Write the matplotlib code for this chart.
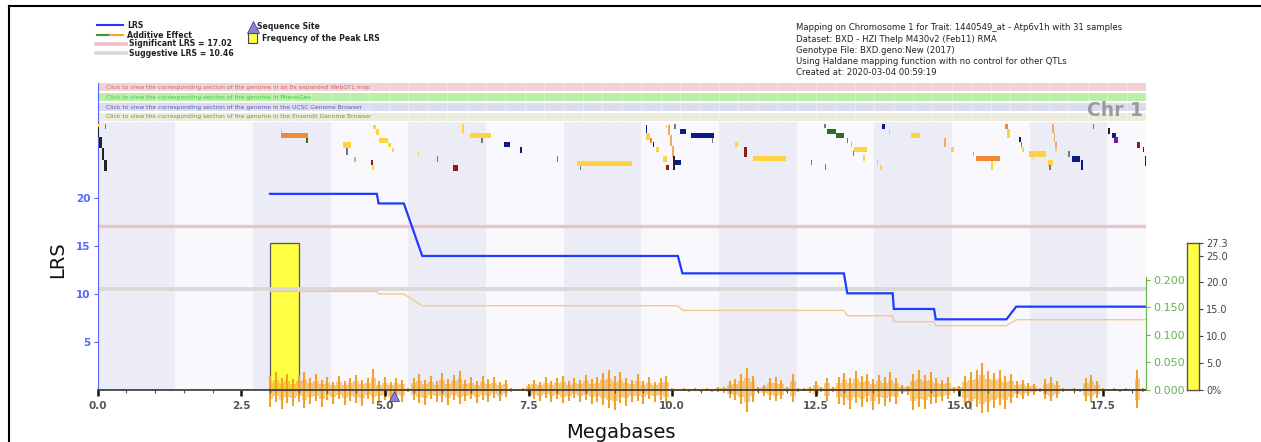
import numpy as np
import matplotlib
matplotlib.use("Agg")
import matplotlib.pyplot as plt
from matplotlib.lines import Line2D
from matplotlib.patches import Rectangle
from matplotlib.ticker import MultipleLocator, FixedLocator, FixedFormatter

plt.rcParams['font.family'] = ['DejaVu Sans']

# ---------------- data ----------------
chr_end_mb = 18.25
band_edges = [0, 1.352, 2.704, 4.056, 5.408, 6.76, 8.112, 9.464, 10.816,
              12.168, 13.52, 14.872, 16.224, 17.576, 18.25]

lrs_mb = [3.00, 4.86, 4.89, 5.33, 5.65, 10.10, 10.18, 12.99, 13.05, 13.84,
          13.86, 14.56, 14.59, 15.82, 15.99, 18.25]
lrs_val = [20.4, 20.4, 19.4, 19.4, 13.93, 13.93, 12.12, 12.12, 10.04, 10.04,
           8.41, 8.41, 7.33, 7.33, 8.65, 8.65]
additive_val = [0.1787, 0.1787, 0.1740, 0.1740, 0.1527, 0.1527, 0.1442, 0.1442,
                0.1345, 0.1345, 0.1236, 0.1236, 0.1164, 0.1164, 0.1273, 0.1273]

significant_lrs = 17.02
suggestive_lrs = 10.46

peak_bin_start = 3.00
peak_bin_end = 3.51
peak_freq = 27.3
freq_ticks = [0, 5, 10, 15, 20, 25, 27.3]
freq_labels = ['0%', '5.0', '10.0', '15.0', '20.0', '25.0', '27.3']

additive_ticks = [0.0, 0.05, 0.10, 0.15, 0.20]
lrs_ticks = [5, 10, 15, 20]
seq_site_mb = 5.15

snp_start, snp_step = 3.0, 0.1
snp_up = [14, 18, 12, 16, 11, 15, 18, 12, 16, 10,
          13, 8, 14, 9, 12, 15, 10, 12, 21, 9,
          13, 8, 12, 10, 2, 12, 16, 10, 14, 9,
          17, 11, 15, 19, 10, 13, 9, 14, 11, 13,
          8, 10, 2, 1, 2, 6, 10, 8, 13, 9,
          12, 14, 9, 12, 10, 15, 11, 13, 17, 20,
          14, 18, 12, 10, 16, 9, 13, 8, 12, 14,
          2, 1, 2, 1, 2, 1, 2, 1, 3, 3,
          9, 11, 16, 22, 14, 3, 5, 12, 13, 10,
          3, 16, 2, 2, 3, 9, 3, 12, 3, 13,
          17, 12, 19, 14, 16, 11, 15, 13, 18, 12,
          5, 4, 16, 20, 15, 18, 12, 10, 13, 3,
          4, 14, 18, 20, 27, 19, 17, 20, 14, 16,
          9, 10, 7, 6, 2, 11, 13, 9, 2, 1,
          2, 1, 12, 15, 9, 2, 1, 2, 1, 2,
          1, 20, 2]
snp_down = [17, 12, 19, 13, 16, 12, 18, 14, 11, 17,
            10, 14, 9, 15, 11, 13, 16, 9, 14, 12,
            10, 13, 9, 12, 2, 10, 13, 15, 9, 12,
            12, 15, 10, 14, 11, 9, 13, 10, 12, 8,
            11, 7, 2, 1, 1, 5, 9, 11, 8, 12,
            9, 13, 11, 8, 12, 10, 14, 12, 15, 18,
            20, 13, 16, 12, 11, 14, 9, 12, 10, 13,
            2, 1, 1, 2, 1, 2, 1, 2, 2, 3,
            8, 10, 14, 22, 12, 2, 6, 10, 11, 9,
            2, 12, 2, 1, 3, 7, 2, 11, 2, 14,
            15, 19, 13, 17, 12, 20, 14, 16, 12, 14,
            4, 5, 20, 17, 19, 14, 13, 11, 9, 3,
            3, 16, 20, 17, 26, 22, 18, 15, 19, 13,
            8, 9, 6, 5, 2, 9, 11, 8, 2, 1,
            1, 2, 11, 12, 8, 2, 1, 1, 2, 1,
            1, 18, 2]

gene_start = [0.00, 0.03, 0.07, 0.11, 0.13, 0.00, 3.19, 3.19, 3.63, 4.27,
              4.33, 4.47, 4.76, 4.78, 4.79, 4.85, 4.90, 5.05, 5.12, 5.57,
              5.90, 6.19, 6.18, 6.34, 6.48, 6.68, 7.08, 7.35, 8.00, 8.34,
              8.40, 9.54, 9.55, 9.62, 9.66, 9.72, 9.84, 9.90, 9.89, 9.93,
              9.96, 10.00, 10.04, 10.14, 10.33, 10.69, 10.03, 10.02, 11.09, 11.25,
              11.41, 12.41, 12.66, 12.65, 12.70, 12.86, 13.04, 13.11, 13.16, 13.15,
              13.33, 13.56, 13.62, 13.65, 13.77, 14.16, 14.74, 14.86, 15.24, 15.29,
              15.56, 15.79, 15.83, 16.04, 16.07, 16.09, 16.61, 16.64, 16.67, 16.66,
              16.22, 16.28, 16.54, 16.57, 16.90, 16.97, 17.12, 17.33, 17.58, 17.66,
              17.70, 18.09, 18.20, 18.23]
gene_end = [0.03, 0.07, 0.11, 0.16, 0.15, 0.03, 3.66, 3.21, 3.66, 4.41,
            4.35, 4.49, 4.79, 4.80, 4.85, 4.90, 5.05, 5.11, 5.16, 5.60,
            5.92, 6.27, 6.20, 6.38, 6.85, 6.70, 7.17, 7.39, 8.02, 9.31,
            8.42, 9.56, 9.62, 9.64, 9.69, 9.77, 9.91, 9.95, 9.91, 9.96,
            10.00, 10.03, 10.06, 10.24, 10.73, 10.71, 10.16, 10.04, 11.15, 11.31,
            11.99, 12.43, 12.68, 12.67, 12.86, 13.00, 13.06, 13.13, 13.40, 13.17,
            13.35, 13.59, 13.66, 13.71, 13.79, 14.32, 14.77, 14.90, 15.26, 15.70,
            15.58, 15.84, 15.89, 16.08, 16.09, 16.12, 16.64, 16.67, 16.70, 16.70,
            16.51, 16.30, 16.63, 16.59, 16.93, 17.10, 17.16, 17.35, 17.63, 17.73,
            17.76, 18.14, 18.22, 18.25]
gene_top = [0.65, 2.8, 5.2, 7.8, 0.0, 0.0, 2.0, 1.1, 3.05, 4.0,
            5.2, 7.2, 7.8, 8.9, 0.2, 1.1, 3.0, 4.1, 5.2, 6.1,
            7.0, 8.9, 7.8, 0.0, 2.0, 3.05, 3.9, 5.0, 7.0, 7.98,
            9.1, 0.2, 2.0, 3.05, 3.9, 5.0, 7.0, 8.9, 0.2, 0.2,
            2.4, 4.8, 0.0, 1.1, 2.0, 3.05, 7.8, 7.0, 3.9, 4.9,
            6.9, 7.8, 8.7, 0.0, 1.1, 2.0, 3.05, 3.9, 5.0, 5.9,
            6.7, 7.8, 8.9, 0.0, 1.1, 2.0, 3.1, 5.1, 6.0, 6.9,
            8.0, 0.0, 1.15, 2.9, 3.85, 4.9, 0.0, 2.0, 4.0, 5.1,
            5.9, 7.1, 7.8, 8.9, 5.8, 7.0, 7.8, 0.0, 0.95, 1.9,
            2.9, 4.0, 5.1, 6.9]
gene_bottom = [2.8, 5.2, 7.8, 10.2, 1.1, 0.65, 3.1, 2.0, 4.1, 5.15,
               6.7, 8.3, 8.9, 10.0, 1.1, 2.4, 4.1, 5.0, 6.1, 7.0,
               8.3, 10.2, 8.9, 2.0, 3.1, 4.1, 5.0, 6.3, 8.3, 9.07,
               10.0, 2.0, 3.5, 4.1, 5.0, 6.1, 8.3, 10.0, 0.9, 2.4,
               4.8, 7.2, 1.1, 2.2, 3.05, 4.1, 8.9, 10.0, 5.0, 7.1,
               8.0, 8.9, 10.0, 0.9, 2.2, 3.05, 4.1, 5.0, 6.1, 7.0,
               8.0, 8.9, 10.0, 1.1, 2.2, 3.1, 5.1, 6.15, 7.0, 8.0,
               10.0, 1.15, 3.1, 4.0, 4.9, 6.15, 2.0, 4.0, 5.1, 6.15,
               7.1, 8.0, 9.1, 10.0, 7.1, 8.2, 10.0, 1.15, 2.2, 3.1,
               4.2, 5.15, 6.15, 9.1]
gene_kind = ['K', 'K', 'K', 'K', 'GR', 'Y', 'O', 'Y', 'G', 'Y',
             'GR', 'LO', 'R', 'Y', 'Y', 'Y', 'Y', 'Y', 'Y', 'Y',
             'GR', 'R', 'Y', 'Y', 'Y', 'GR', 'N', 'N', 'GR', 'Y',
             'GR', 'N', 'Y', 'O', 'N', 'Y', 'Y', 'R', 'Y', 'LO',
             'LO', 'LO', 'GR', 'N', 'N', 'GR', 'N', 'K', 'Y', 'R',
             'Y', 'GR', 'GR', 'GR', 'G', 'G', 'GR', 'LO', 'Y', 'GR',
             'Y', 'Y', 'Y', 'N', 'Y', 'Y', 'LO', 'Y', 'PK', 'O',
             'Y', 'O', 'Y', 'N', 'GR', 'Y', 'LO', 'LO', 'PK', 'Y',
             'Y', 'Y', 'Y', 'GR', 'GR', 'N', 'N', 'GR', 'K', 'N',
             'P', 'R', 'N', 'K']

click_labels = [
    "Click to view the corresponding section of the genome in an 8x expanded WebQTL map",
    "Click to view the corresponding section of the genome in PhenoGen",
    "Click to view the corresponding section of the genome in the UCSC Genome Browser",
    "Click to view the corresponding section of the genome in the Ensembl Genome Browser",
]
info_lines = [
    "Mapping on Chromosome 1 for Trait: 1440549_at - Atp6v1h with 31 samples",
    "Dataset: BXD - HZI Thelp M430v2 (Feb11) RMA",
    "Genotype File: BXD.geno:New (2017)",
    "Using Haldane mapping function with no control for other QTLs",
    "Created at: 2020-03-04 00:59:19",
]

# ---------------- styles ----------------
GENE_COLORS = {'Y': '#ffd23f', 'O': '#f08a35', 'LO': '#f4a860', 'N': '#0b1a85',
               'R': '#8e1b1b', 'G': '#2f6c1f', 'K': '#222222', 'GR': '#777777',
               'P': '#7b1a9c', 'PK': '#d9a3a3'}
BAND_DARK, BAND_LIGHT = '#ebecf5', '#f8f8fd'
BLUE_AX = '#5566ff'
BLUE_LINE = '#1f3bff'
GREEN_AX = '#66b350'
ORANGE = '#f2a229'

W, H = 1261, 442
fig = plt.figure(figsize=(W / 100, H / 100), dpi=100)


def fx(px):
    return px / W


def fy(py):
    return 1 - py / H


L_PX, R_PX = 97.7, 1146.0
TOP_PX, AX0_PX, BOT_PX = 122.3, 389.7, 413.0
rect = [fx(L_PX), fy(BOT_PX), (R_PX - L_PX) / W, (BOT_PX - TOP_PX) / H]


def ylim_for(px_per_unit):
    return (-(BOT_PX - AX0_PX) / px_per_unit, (AX0_PX - TOP_PX) / px_per_unit)


# background bands + frequency bar
ax_bg = fig.add_axes(rect)
ax_bg.set_xlim(0, chr_end_mb)
yl = ylim_for(146.4 / 27.3)
ax_bg.set_ylim(*yl)
ax_bg.axis('off')
y0frac = -yl[0] / (yl[1] - yl[0])
for i in range(len(band_edges) - 1):
    ax_bg.axvspan(band_edges[i], band_edges[i + 1], ymin=y0frac, ymax=1,
                  color=BAND_DARK if i % 2 == 0 else BAND_LIGHT, lw=0)
ax_bg.bar(peak_bin_start, peak_freq, width=peak_bin_end - peak_bin_start,
          align='edge', color='#ffff44', edgecolor='#555555', lw=0.9)

# SNP density spikes
ax_snp = fig.add_axes(rect)
ax_snp.set_xlim(0, chr_end_mb)
ax_snp.set_ylim(*ylim_for(1.0))
ax_snp.axis('off')
snp_pos = snp_start + snp_step * np.arange(len(snp_up))
up = np.array(snp_up, float)
dn = -np.array(snp_down, float)
ax_snp.fill_between(snp_pos, dn * 0.55, up * 0.55, step='mid', color=ORANGE, alpha=0.55, lw=0)
ax_snp.vlines(snp_pos, dn, up, color=ORANGE, lw=1.5)

# LRS axes
ax = fig.add_axes(rect)
ax.patch.set_visible(False)
ax.set_xlim(0, chr_end_mb)
ax.set_ylim(*ylim_for(9.6))
ax.axhline(significant_lrs, color='#eec2c5', lw=2.3, zorder=1)
ax.axhline(suggestive_lrs, color='#d9d9d9', lw=2.8, zorder=1)
ax.plot(lrs_mb, lrs_val, color=BLUE_LINE, lw=1.6, zorder=3, solid_joinstyle='miter')
ax.plot([seq_site_mb], [-0.66], marker='^', ms=7, mfc='#9080d8', mec='#4b3d99',
        mew=0.6, clip_on=False, zorder=4, ls='none')

for s in ['top', 'right']:
    ax.spines[s].set_visible(False)
ax.spines['left'].set_color(BLUE_AX)
ax.spines['left'].set_bounds(0, ylim_for(9.6)[1])
ax.spines['bottom'].set_position(('data', 0))
ax.spines['bottom'].set_color('#333333')
ax.spines['bottom'].set_linewidth(1.2)
ax.xaxis.set_major_locator(MultipleLocator(2.5))
ax.xaxis.set_minor_locator(MultipleLocator(0.5))
ax.xaxis.set_major_formatter(plt.FuncFormatter(lambda v, p: f"{v:.1f}"))
ax.tick_params(axis='x', which='major', length=4, width=1.8, color='#111111',
               labelsize=7.5, labelcolor='#555555', pad=4)
ax.tick_params(axis='x', which='minor', length=2.5, width=0.8, color='#555555')
for t in ax.get_xticklabels():
    t.set_fontweight('bold')
ax.set_yticks(lrs_ticks)
ax.tick_params(axis='y', length=3, width=0.8, color=BLUE_AX, labelsize=7.5,
               labelcolor=BLUE_AX, pad=2)
for t in ax.get_yticklabels():
    t.set_fontweight('bold')

# additive effect axes
ax_add = fig.add_axes(rect)
ax_add.patch.set_visible(False)
ax_add.set_xlim(0, chr_end_mb)
ax_add.set_ylim(*ylim_for(550.0))
ax_add.plot(lrs_mb, additive_val, color='#f7c88e', lw=1.0, zorder=2)
for s in ['top', 'left', 'bottom']:
    ax_add.spines[s].set_visible(False)
ax_add.spines['right'].set_color(GREEN_AX)
ax_add.spines['right'].set_bounds(0, 0.205)
ax_add.xaxis.set_visible(False)
ax_add.yaxis.tick_right()
ax_add.set_yticks(additive_ticks)
ax_add.yaxis.set_major_formatter(plt.FuncFormatter(lambda v, p: f"{v:.3f}"))
ax_add.tick_params(axis='y', length=3, width=0.8, color=GREEN_AX, labelsize=8,
                   labelcolor=GREEN_AX, pad=2)

# gene track
ax_gene = fig.add_axes([fx(L_PX), fy(124 + 4.6 * 11), (R_PX - L_PX) / W, 4.6 * 11 / H])
ax_gene.set_xlim(0, chr_end_mb)
ax_gene.set_ylim(11, 0)
ax_gene.axis('off')
for s0, s1, t0, t1, k in zip(gene_start, gene_end, gene_top, gene_bottom, gene_kind):
    ax_gene.bar(s0, t1 - t0, width=max(s1 - s0, 0.022), bottom=t0, align='edge',
                color=GENE_COLORS[k], lw=0)

# click bars
ax_click = fig.add_axes([fx(L_PX), fy(122.3), (R_PX - L_PX) / W, (122.3 - 82.7) / H])
ax_click.set_xlim(0, 1)
ax_click.set_ylim(4, 0)
click_bg = ['#f3d2d6', '#b9f0a9', '#dcdcf0', '#ececdc']
click_fg = ['#c86868', '#48c848', '#5a5aa8', '#8a8a3a']
for i, lab in enumerate(click_labels):
    ax_click.add_patch(Rectangle((0, i + 0.02), 1, 0.86, color=click_bg[i], lw=0))
    ax_click.text(0.008, i + 0.46, lab, fontsize=4.3, color=click_fg[i], va='center', ha='left')
for xv in np.linspace(0, 1, 55)[1:-1]:
    ax_click.axvline(xv, color='white', lw=0.5, alpha=0.45)
for s in ['top', 'right', 'bottom']:
    ax_click.spines[s].set_visible(False)
ax_click.spines['left'].set_color(BLUE_AX)
ax_click.set_xticks([])
ax_click.set_yticks([])
ax_click.patch.set_visible(False)

fig.text(fx(1143), fy(115.5), 'Chr 1', ha='right', va='baseline', fontsize=13.5,
         fontweight='bold', color='#9a9a9a')

# frequency colour bar
ax_cb = fig.add_axes([fx(1187), fy(AX0_PX), 12 / W, (AX0_PX - 243.3) / H])
ax_cb.set_xlim(0, 1)
ax_cb.set_ylim(0, peak_freq)
ax_cb.bar(0, peak_freq, width=1, align='edge', color='#ffff44', lw=0)
for s in ax_cb.spines.values():
    s.set_color('#555555')
    s.set_linewidth(1.0)
ax_cb.set_xticks([])
ax_cb.yaxis.tick_right()
ax_cb.yaxis.set_major_locator(FixedLocator(freq_ticks))
ax_cb.yaxis.set_major_formatter(FixedFormatter(freq_labels))
ax_cb.tick_params(axis='y', length=3, width=0.8, color='#444444', labelsize=7,
                  labelcolor='#444444', pad=2)

# axis titles
fig.text(fx(58), fy(260), 'LRS', rotation=90, ha='center', va='center', fontsize=14, color='#111111')
fig.text(fx(621), fy(438.5), 'Megabases', ha='center', va='baseline', fontsize=14, color='#111111')

# legend
fig.add_artist(Line2D([fx(97), fx(123)], [fy(25), fy(25)], color=BLUE_LINE, lw=1.5))
fig.add_artist(Line2D([fx(97), fx(110)], [fy(35), fy(35)], color='#3c9a3c', lw=1.5))
fig.add_artist(Line2D([fx(110), fx(123)], [fy(35), fy(35)], color='#f5a72a', lw=1.5))
fig.add_artist(Line2D([fx(96), fx(126)], [fy(44), fy(44)], color='#eec2c5', lw=2.6))
fig.add_artist(Line2D([fx(96), fx(126)], [fy(52.5), fy(52.5)], color='#d9d9d9', lw=2.6))
leg_kw = dict(fontsize=5.6, fontweight='bold', color='#222222', va='center', ha='left')
fig.text(fx(127), fy(25.5), 'LRS', **leg_kw)
fig.text(fx(127), fy(35.5), 'Additive Effect', **leg_kw)
fig.text(fx(129), fy(44), 'Significant LRS = 17.02', **leg_kw)
fig.text(fx(129), fy(53), 'Suggestive LRS = 10.46', **leg_kw)
fig.add_artist(Line2D([fx(252.5)], [fy(26.5)], marker='^', ms=8, mfc='#9080d8',
                      mec='#4b3d99', mew=0.6, ls='none'))
fig.text(fx(257), fy(26.7), 'Sequence Site', **leg_kw)
fig.add_artist(Rectangle((fx(248), fy(43.3)), 9 / W, 10 / H, transform=fig.transFigure,
                         facecolor='#ffff44', edgecolor='#444444', lw=0.8))
fig.text(fx(262.5), fy(38.3), 'Frequency of the Peak LRS', **leg_kw)

for i, line in enumerate(info_lines):
    fig.text(fx(796), fy(28 + 11.1 * i), line, fontsize=6.1, color='#222222', va='center', ha='left')

# frame
fig.add_artist(Line2D([fx(9), fx(1261)], [fy(6), fy(6)], color='black', lw=1.5))
fig.add_artist(Line2D([fx(9), fx(9)], [fy(6), fy(442)], color='black', lw=1.5))

fig.savefig('out.png', dpi=100)
